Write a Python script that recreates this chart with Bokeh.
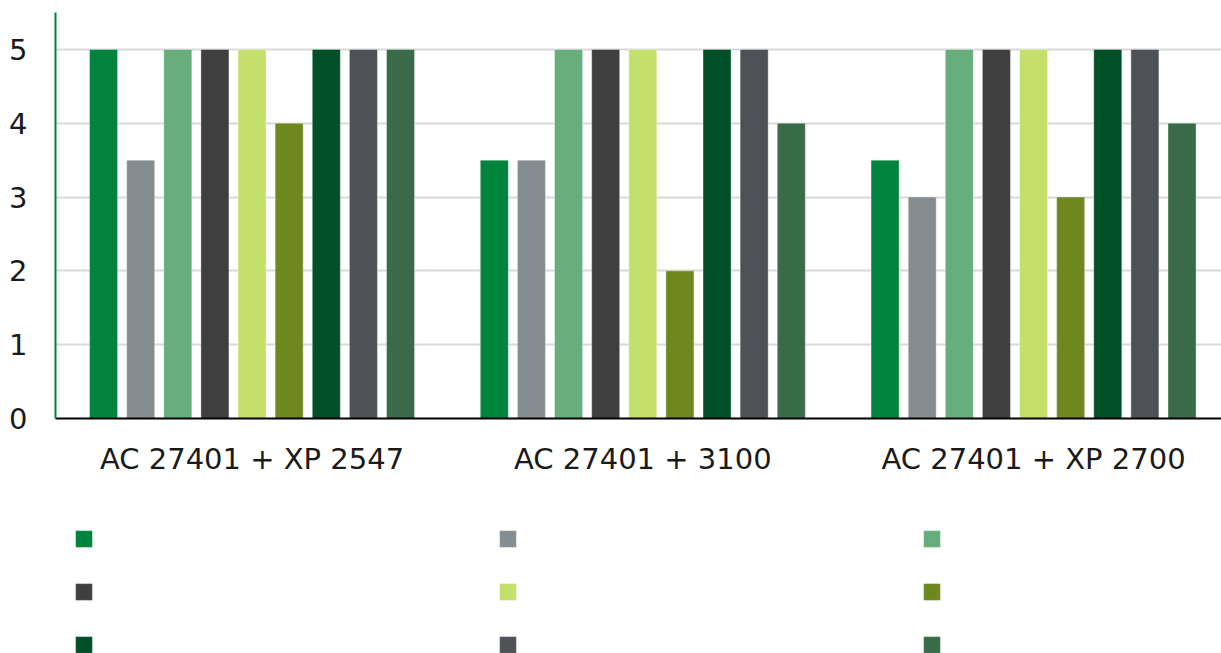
from bokeh.plotting import figure
from bokeh.models import ColumnDataSource, Legend, LegendItem, Range1d, FixedTicker
from bokeh.layouts import column
from bokeh.transform import dodge
from bokeh.embed import file_html
from bokeh.resources import INLINE

categories = ["AC 27401 + XP 2547", "AC 27401 + 3100", "AC 27401 + XP 2700"]
s1 = [5, 3.5, 3.5]
s2 = [3.5, 3.5, 3]
s3 = [5, 5, 5]
s4 = [5, 5, 5]
s5 = [5, 5, 5]
s6 = [4, 2, 3]
s7 = [5, 5, 5]
s8 = [5, 5, 5]
s9 = [5, 4, 4]
series = [s1, s2, s3, s4, s5, s6, s7, s8, s9]
colors = ["#00843D", "#868D91", "#68AE7C", "#3F3F3F", "#C5E06A",
          "#6E871E", "#004F27", "#4E5256", "#3A6B48"]
legend_labels = ["", "", "", "", "", "", "", "", ""]

xpos = [i + 0.5 for i in range(len(categories))]
data = {"x": xpos}
for i, s in enumerate(series):
    data[f"s{i}"] = s
source = ColumnDataSource(data)

p = figure(x_range=Range1d(-0.003, 2.981),
           y_range=Range1d(0, 5.5),
           width=1221, height=488, output_backend="svg", toolbar_location=None,
           min_border_left=55, min_border_top=12, min_border_right=0,
           min_border_bottom=70)

font = "DejaVu Sans"
p.outline_line_color = None
p.xgrid.grid_line_color = None
p.ygrid.grid_line_color = "#D9D9D9"
p.ygrid.grid_line_width = 2
p.yaxis.ticker = [0, 1, 2, 3, 4, 5]
p.yaxis.axis_line_color = "#00843D"
p.yaxis.axis_line_width = 2
p.yaxis.major_tick_line_color = None
p.yaxis.minor_tick_line_color = None
p.yaxis.major_label_standoff = 22
p.xaxis.ticker = FixedTicker(ticks=xpos)
p.xaxis.major_label_overrides = {x: c for x, c in zip(xpos, categories)}
p.xaxis.axis_line_color = "#000000"
p.xaxis.axis_line_width = 2
p.xaxis.major_tick_line_color = None
p.xaxis.minor_tick_line_color = None
p.xaxis.major_label_standoff = 17
for ax in (p.xaxis, p.yaxis):
    ax.major_label_text_font = font
    ax.major_label_text_font_size = "29px"
    ax.major_label_text_color = "#1a1a1a"

n = len(series)
slot = 0.095
width = 0.0717
for i in range(n):
    off = (i - (n - 1) / 2) * slot
    p.vbar(x=dodge("x", off), top=f"s{i}", width=width,
           source=source, fill_color=colors[i], line_color="white",
           line_alpha=0.35, line_width=1)

# legend panel (colour squares only, as in the reference)
lg = figure(width=1221, height=165, output_backend="svg", toolbar_location=None,
            x_range=Range1d(0, 1), y_range=Range1d(0, 1),
            x_axis_location=None, y_axis_location=None,
            min_border_left=0, min_border_right=0, min_border_top=0, min_border_bottom=0)
lg.outline_line_color = None
lg.grid.visible = False
leg_renderers = []
for i in range(n):
    # one placeholder bar outside the visible range so the legend swatch has a style
    r = lg.vbar(x=[5], top=[0.5], width=0.1, fill_color=colors[i],
                line_color="white", line_alpha=0.35)
    leg_renderers.append(r)
order = [0, 3, 6, 1, 4, 7, 2, 5, 8]  # row-major reading in a column-filled grid
items = [LegendItem(label=legend_labels[i], renderers=[leg_renderers[i]]) for i in order]
legend = Legend(items=items, ncols=3, location=(18, -2),
                glyph_width=21, glyph_height=21, label_height=21,
                label_standoff=5, label_width=366, spacing=32,
                padding=0, margin=0, border_line_color=None,
                background_fill_alpha=0,
                label_text_font=font, label_text_font_size="16px")
lg.add_layout(legend)

open("out.html", "w").write(file_html(column(p, lg, spacing=0), INLINE))
